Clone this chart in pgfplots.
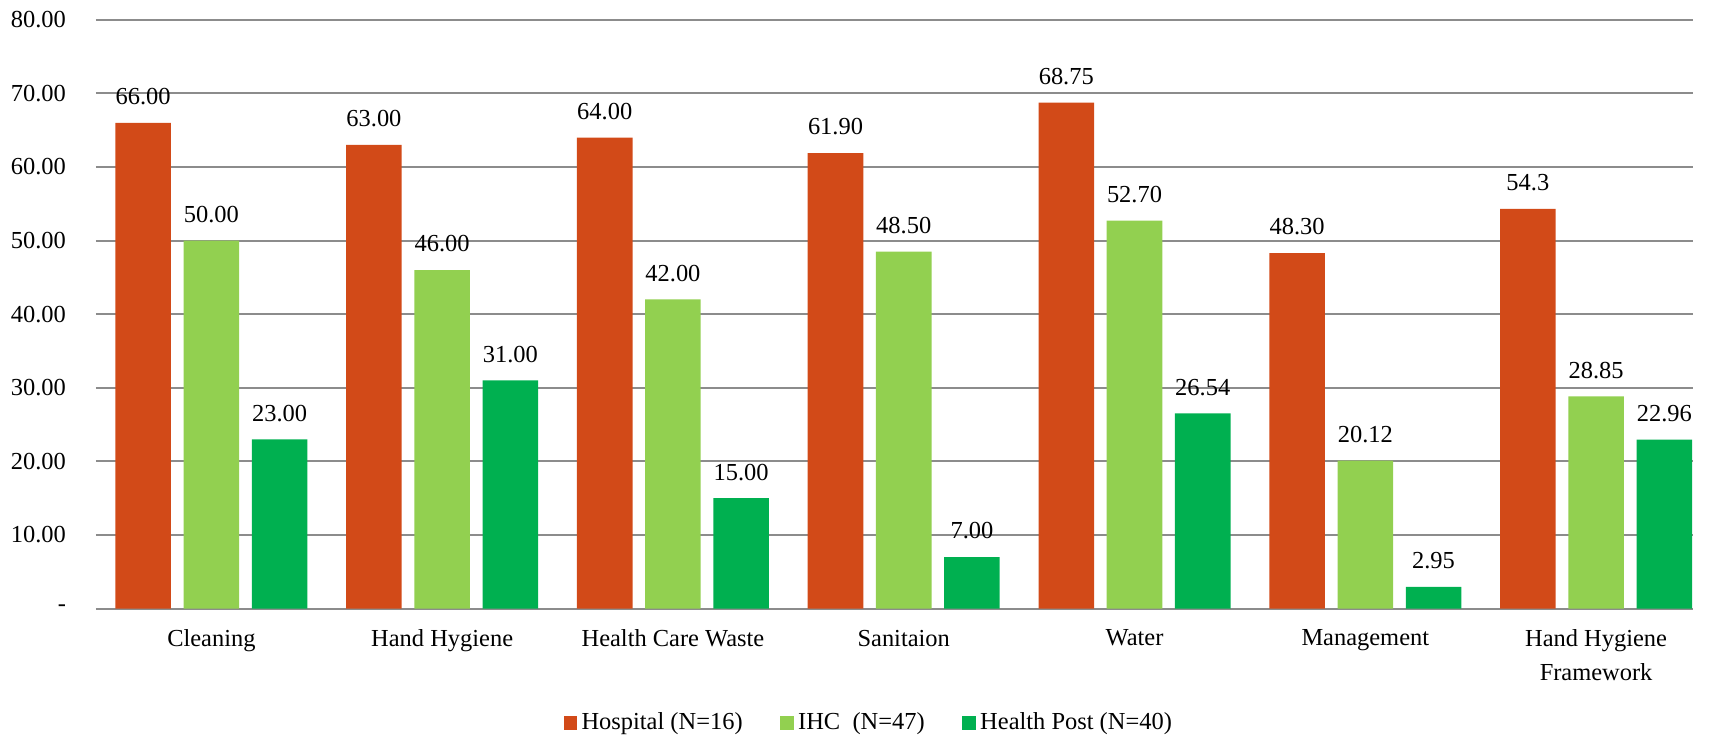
\documentclass[border=0pt]{standalone}
\usepackage{fontspec}
\setmainfont{Liberation Serif}
\usepackage{pgfplots}
\pgfplotsset{compat=1.18}
\definecolor{hosp}{HTML}{D24A18}
\definecolor{ihc}{HTML}{92D050}
\definecolor{hp}{HTML}{00B050}
\definecolor{gridc}{HTML}{8C8C8C}
\begin{document}
\begin{tikzpicture}
\begin{axis}[
  name=ax,
  scale only axis, width=718.65pt, height=265pt,
  ymin=0, ymax=80, xmin=-0.5, xmax=6.42,
  ybar=5.7pt, bar width=25pt,
  axis line style={draw=none},
  major tick length=0pt,
  tick style={draw=none},
  ytick={0,10,20,30,40,50,60,70,80},
  yticklabels={-\hspace{5.9pt},10.00,20.00,30.00,40.00,50.00,60.00,70.00,80.00},
  yticklabel style={font=\fontsize{11}{13}\selectfont, xshift=-10pt},
  ymajorgrids, grid style={gridc, line width=0.9pt},
  xtick={0,1,2,3,4,5,6},
  xticklabels={Cleaning, Hand Hygiene, Health Care Waste, Sanitaion, Water, Management, {Hand Hygiene\\Framework}},
  xticklabel style={font=\fontsize{11}{15}\selectfont, align=center, yshift=-6pt},
  point meta=explicit symbolic,
  nodes near coords,
  nodes near coords style={font=\fontsize{11}{13}\selectfont, anchor=south, yshift=4.5pt, text=black},
  legend style={at={(0.4847,-0.194)}, anchor=center, legend columns=3, draw=none,
    font=\fontsize{11}{13}\selectfont,
    /tikz/every even column/.append style={column sep=15pt}},
  legend image code/.code={\fill[#1] (0pt,-3pt) rectangle (6pt,3pt);},
]
\addplot[fill=hosp, draw=none] coordinates {
 (0,66)[66.00] (1,63)[63.00] (2,64)[64.00] (3,61.9)[61.90] (4,68.75)[68.75] (5,48.3)[48.30] (6,54.3)[54.3]};
\addplot[fill=ihc, draw=none] coordinates {
 (0,50)[50.00] (1,46)[46.00] (2,42)[42.00] (3,48.5)[48.50] (4,52.7)[52.70] (5,20.12)[20.12] (6,28.85)[28.85]};
\addplot[fill=hp, draw=none] coordinates {
 (0,23)[23.00] (1,31)[31.00] (2,15)[15.00] (3,7)[7.00] (4,26.54)[26.54] (5,2.95)[2.95] (6,22.96)[22.96]};
\legend{Hospital (N=16), IHC\ \ (N=47), Health Post (N=40)}
\end{axis}
\pgfresetboundingbox
\path ([xshift=-43.2pt,yshift=-58.3pt]ax.south west) rectangle ([xshift=9pt,yshift=8.9pt]ax.north east);
\end{tikzpicture}
\end{document}
